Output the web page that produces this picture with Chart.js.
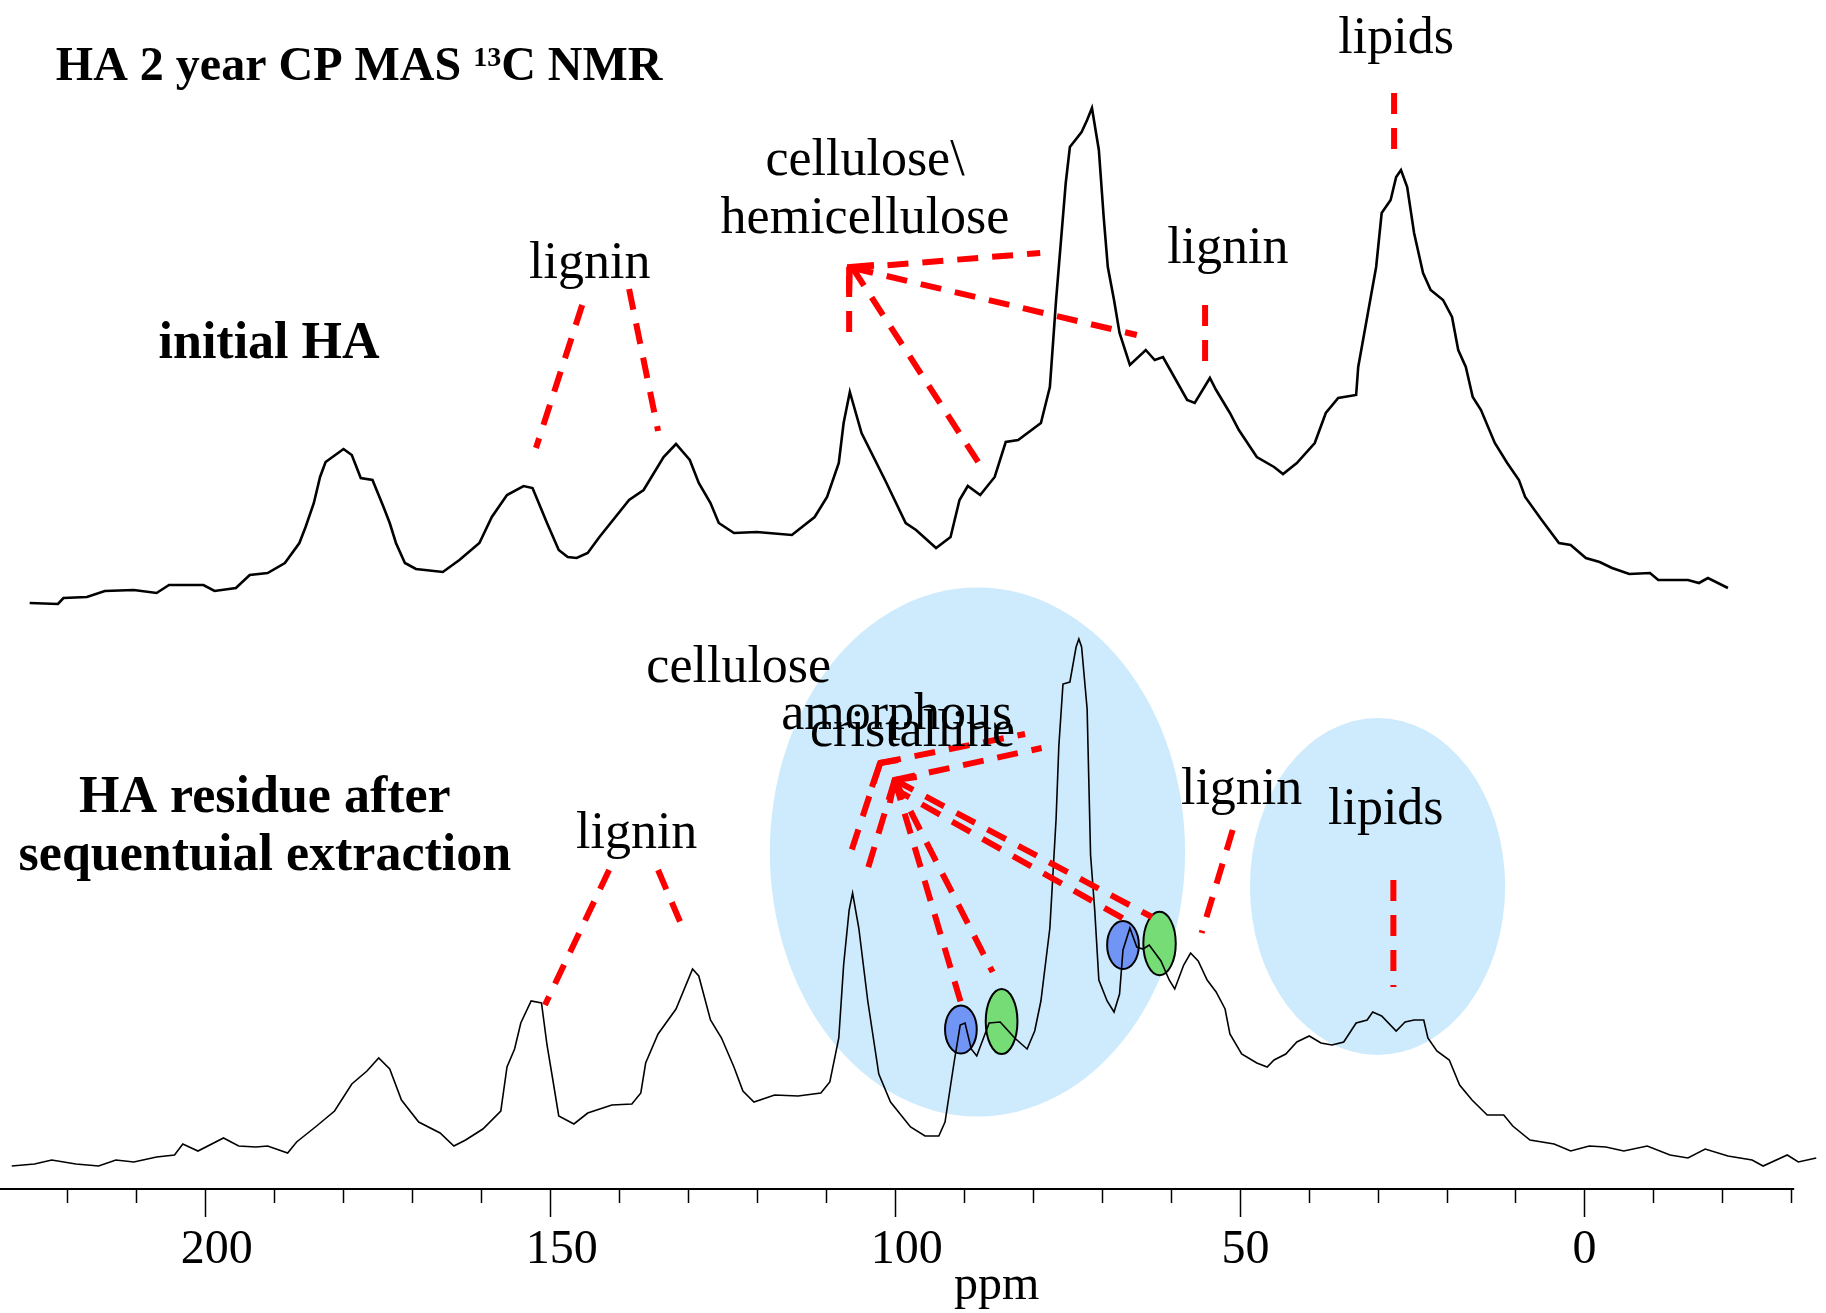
<!DOCTYPE html>
<html>
<head>
<meta charset="utf-8">
<script src="https://cdn.jsdelivr.net/npm/chart.js@4.4.1/dist/chart.umd.min.js"></script>
<style>
  html, body { margin: 0; padding: 0; background: #fff; }
  #wrap { width: 1826px; height: 1313px; }
</style>
</head>
<body>
<div id="wrap"><canvas id="nmrChart" width="1826" height="1313"></canvas></div>
<script>
// Initial HA spectrum: chemical shift (ppm) and intensity (a.u.)
const initialPpm = [225.4, 221.3, 220.5, 217.1, 214.5, 210.3, 207.0, 205.2, 200.2, 198.6,
    195.5, 193.5, 190.9, 188.4, 186.3, 185.4, 184.2, 183.3, 182.5, 179.9,
    178.7, 177.4, 175.7, 174.1, 173.2, 172.3, 171.0, 169.4, 165.5, 163.1,
    160.2, 158.4, 156.2, 153.8, 152.5, 151.6, 150.4, 148.7, 147.4, 146.1,
    144.5, 142.8, 138.5, 136.4, 133.5, 131.7, 129.7, 128.4, 126.7, 125.5,
    123.3, 120.0, 114.9, 111.6, 109.8, 108.1, 107.4, 106.5, 104.8, 101.4,
    98.4, 96.9, 94.0, 91.9, 90.6, 89.4, 87.6, 85.5, 83.9, 82.1,
    78.8, 77.5, 76.6, 75.2, 74.6, 72.9, 72.1, 71.4, 70.4, 69.7,
    69.1, 68.2, 67.4, 65.9, 63.6, 62.3, 61.1, 59.8, 57.6, 56.5,
    54.3, 53.4, 51.4, 50.1, 47.5, 45.0, 43.7, 41.7, 39.1, 37.5,
    35.7, 33.1, 32.8, 31.5, 30.2, 29.4, 28.1, 27.3, 26.6, 25.7,
    24.7, 23.4, 22.3, 20.5, 19.2, 18.3, 17.2, 16.2, 15.0, 13.0,
    11.2, 9.5, 8.6, 6.2, 3.7, 2.0, -0.2, -2.2, -4.0, -6.5,
    -9.5, -10.7, -15.0, -16.6, -17.9, -20.8];
const initialIntensity = [26, 25, 31, 32, 38, 39, 36, 44, 44, 38,
    41, 54, 56, 66, 86, 102, 126, 152, 167, 180,
    174, 151, 149, 122, 106, 86, 66, 60, 57, 69,
    86, 112, 134, 143, 141, 126, 106, 79, 72, 71,
    76, 92, 129, 139, 172, 185, 169, 146, 126, 106,
    96, 97, 94, 112, 132, 166, 206, 237, 196, 149,
    106, 99, 81, 92, 129, 143, 134, 152, 187, 189,
    206, 242, 329, 446, 482, 497, 509, 521, 479, 412,
    362, 329, 296, 264, 279, 269, 272, 256, 229, 226,
    251, 239, 216, 199, 172, 162, 155, 166, 186, 216,
    231, 234, 262, 312, 362, 416, 429, 452, 459, 442,
    396, 356, 339, 329, 312, 279, 262, 232, 219, 186,
    166, 149, 132, 109, 86, 84, 71, 67, 61, 55,
    56, 49, 49, 46, 51, 41];

// HA residue after sequential extraction
const residuePpm = [228.0, 224.7, 222.2, 218.7, 215.4, 212.9, 210.3, 207.0, 204.4, 203.2,
    201.0, 197.3, 195.1, 192.6, 190.9, 188.0, 186.7, 183.8, 181.2, 178.7,
    176.5, 174.8, 173.2, 171.5, 169.0, 165.9, 163.9, 162.2, 159.7, 157.1,
    156.2, 155.1, 154.2, 152.7, 151.2, 150.4, 149.6, 148.7, 146.5, 144.5,
    141.0, 138.1, 136.8, 136.1, 134.3, 131.7, 129.3, 128.4, 126.7, 125.1,
    123.3, 122.0, 120.4, 117.4, 114.0, 110.7, 109.4, 108.1, 107.4, 106.6,
    106.1, 105.2, 103.9, 102.3, 100.6, 97.7, 95.6, 93.6, 92.7, 91.4,
    90.5, 89.8, 88.9, 88.1, 86.3, 84.7, 82.6, 80.8, 79.7, 78.8,
    77.5, 76.6, 76.2, 75.6, 74.6, 73.7, 73.3, 72.9, 72.1, 71.6,
    71.0, 70.4, 69.2, 68.2, 67.4, 66.9, 65.9, 64.9, 64.0, 63.1,
    61.4, 60.2, 59.4, 58.1, 57.1, 56.0, 54.7, 53.4, 52.1, 51.4,
    49.7, 47.5, 46.0, 45.0, 43.3, 41.7, 39.9, 38.2, 36.6, 34.9,
    33.1, 31.5, 30.7, 29.4, 27.3, 26.0, 24.7, 23.3, 22.7, 21.4,
    19.6, 18.1, 16.3, 14.1, 11.7, 10.4, 7.9, 4.4, 2.0, -0.7,
    -3.1, -5.7, -9.1, -12.4, -15.0, -17.5, -20.8, -24.3, -25.9, -29.4,
    -31.0, -33.6];
const residueIntensity = [23, 25, 29, 25, 23, 29, 27, 32, 34, 45,
    38, 51, 43, 42, 43, 36, 47, 63, 78, 105,
    118, 131, 120, 89, 67, 56, 43, 49, 60, 78,
    122, 140, 166, 188, 186, 144, 111, 73, 65, 76,
    84, 85, 96, 126, 155, 180, 220, 213, 169, 151,
    122, 98, 87, 94, 93, 96, 107, 151, 224, 279,
    296, 261, 188, 115, 87, 62, 53, 53, 67, 126,
    164, 166, 140, 133, 166, 167, 151, 140, 158, 188,
    261, 370, 443, 505, 507, 542, 550, 542, 480, 334,
    279, 209, 188, 177, 195, 239, 261, 242, 240, 244,
    228, 209, 200, 224, 236, 228, 209, 197, 180, 155,
    135, 126, 122, 129, 135, 147, 153, 146, 144, 147,
    166, 169, 177, 173, 158, 167, 169, 169, 151, 138,
    129, 104, 89, 74, 74, 63, 49, 45, 38, 43,
    42, 38, 43, 34, 31, 40, 33, 29, 23, 34,
    27, 31];

// vertical offset of the initial HA trace above the residue trace
const initialOffset = 560;

const majorTicks = [200, 150, 100, 50, 0];

// red dashed guides: [ppm, intensity, ppm, intensity]
const guideLines = [
    [145.3, 884, 152.0, 741], [138.5, 900, 134.3, 758],
    [106.1, 921, 78.9, 936], [106.1, 921, 64.9, 854],
    [106.6, 913, 106.6, 854], [106.1, 921, 87.9, 727],
    [55.0, 884, 55.0, 821], [27.6, 1096, 27.6, 1037],
    [102.1, 426, 81.1, 455], [102.1, 426, 106.8, 327],
    [100.0, 409, 78.7, 441], [100.0, 409, 104.3, 311],
    [100.0, 409, 90.3, 184], [100.0, 409, 85.8, 217],
    [100.0, 409, 62.7, 272], [100.5, 402, 66.5, 269],
    [141.4, 319, 150.7, 184], [134.3, 319, 130.6, 259],
    [51.0, 359, 55.5, 256], [27.7, 309, 27.7, 202]
];

// arrow heads: [side ppm, side int, tip ppm, tip int, side ppm, side int]
const arrowHeads = [
    [103.0, 924, 106.5, 922, 106.6, 896],
    [99.5, 429, 102.1, 426, 103.3, 402],
    [96.8, 412, 100.0, 409, 100.7, 386]
];

// highlighted regions: centre ppm, centre intensity, half-width (ppm), half-height
const regionCentrePpm = [88.0, 30.0, 90.4, 84.5, 66.9, 61.6];
const regionCentreInt = [337, 302.5, 159.5, 167.5, 244, 245.5];
const regionHalfPpm = [30.1, 18.5, 2.3, 2.3, 2.3, 2.35];
const regionHalfInt = [264.5, 168.5, 24, 32.5, 24, 31.7];
const regionFill = ['#cdebfc', '#cdebfc', '#7095f5', '#76dc76', '#7095f5', '#76dc76'];

const peakLabels = [
    ['lipids', 27.3, 1136], ['cellulose\\', 104.3, 1014], ['hemicellulose', 104.3, 956],
    ['lignin', 144.2, 911], ['lignin', 51.7, 926],
    ['cellulose', 122.6, 507], ['amorphous', 99.7, 460], ['cristalline', 97.4, 443],
    ['lignin', 137.4, 341], ['lignin', 49.7, 385], ['lipids', 28.8, 365]
];

const sampleLabels = [
    ['initial HA', 190.7, 831], ['HA residue after', 191.3, 377],
    ['sequentuial extraction', 191.3, 319]
];

const SERIF = "'Liberation Serif', 'Times New Roman', serif";
const RED = '#ff0000';

const datasets = [];

// dashed guides on top of spectra
guideLines.forEach(g => {
    datasets.push({
        data: [{x: g[0], y: g[1]}, {x: g[2], y: g[3]}],
        borderColor: RED,
        borderWidth: 6,
        borderDash: [21, 14],
        pointRadius: 0,
        showLine: true,
        order: 1
    });
});

arrowHeads.forEach(a => {
    datasets.push({
        data: [{x: a[0], y: a[1]}, {x: a[2], y: a[3]}, {x: a[4], y: a[5]}],
        borderColor: RED,
        borderWidth: 6,
        pointRadius: 0,
        showLine: true,
        order: 1
    });
});

datasets.push({
    data: initialPpm.map((p, i) => ({x: p, y: initialIntensity[i] + initialOffset})),
    borderColor: '#000',
    borderWidth: 2.6,
    pointRadius: 0,
    showLine: true,
    order: 2
});

datasets.push({
    data: residuePpm.map((p, i) => ({x: p, y: residueIntensity[i]})),
    borderColor: '#000',
    borderWidth: 1.6,
    pointRadius: 0,
    showLine: true,
    order: 2
});

const overlayPlugin = {
    id: 'overlay',
    beforeDatasetsDraw(chart) {
        const {ctx} = chart;
        const x = chart.scales.x, y = chart.scales.y;
        regionCentrePpm.forEach((p, i) => {
            const cx = x.getPixelForValue(p);
            const cy = y.getPixelForValue(regionCentreInt[i]);
            const rx = Math.abs(x.getPixelForValue(p + regionHalfPpm[i]) - cx);
            const ry = Math.abs(y.getPixelForValue(regionCentreInt[i] + regionHalfInt[i]) - cy);
            ctx.save();
            ctx.beginPath();
            ctx.ellipse(cx, cy, rx, ry, 0, 0, Math.PI * 2);
            ctx.fillStyle = regionFill[i];
            ctx.fill();
            // only the small peak markers have an outline
            if (i > 1) {
                ctx.lineWidth = 2;
                ctx.strokeStyle = '#000';
                ctx.stroke();
            }
            ctx.restore();
        });
    },
    afterDraw(chart) {
        const {ctx, chartArea} = chart;
        const x = chart.scales.x, y = chart.scales.y;
        const axisY = chartArea.bottom;

        ctx.save();
        // axis line and tick marks
        ctx.strokeStyle = '#000';
        ctx.lineWidth = 2;
        ctx.beginPath();
        ctx.moveTo(chartArea.left, axisY);
        ctx.lineTo(x.getPixelForValue(-30.4), axisY);
        ctx.stroke();
        ctx.lineWidth = 1.5;
        for (let v = -30; v <= 220; v += 10) {
            const px = Math.round(x.getPixelForValue(v)) + 0.5;
            ctx.beginPath();
            ctx.moveTo(px, axisY);
            ctx.lineTo(px, axisY + (majorTicks.includes(v) ? 28 : 14));
            ctx.stroke();
        }

        ctx.fillStyle = '#000';

        // tick labels sit slightly right of their ticks, more so for longer numbers
        ctx.textAlign = 'center';
        ctx.textBaseline = 'middle';
        ctx.font = '48px ' + SERIF;
        majorTicks.forEach(v => {
            const s = String(v);
            ctx.fillText(s, x.getPixelForValue(v) + 6 * (s.length - 1), axisY + 61);
        });

        ctx.textBaseline = 'alphabetic';

        // axis title
        ctx.font = '48px ' + SERIF;
        ctx.fillText('ppm', x.getPixelForValue(85.2), y.getPixelForValue(-110));

        // peak assignments
        ctx.font = '52px ' + SERIF;
        peakLabels.forEach(l => {
            ctx.fillText(l[0], x.getPixelForValue(l[1]), y.getPixelForValue(l[2]));
        });

        // sample names
        ctx.font = 'bold 52px ' + SERIF;
        sampleLabels.forEach(l => {
            ctx.fillText(l[0], x.getPixelForValue(l[1]), y.getPixelForValue(l[2]));
        });

        // title with superscript 13
        ctx.textAlign = 'left';
        let tx = x.getPixelForValue(221.6);
        const ty = y.getPixelForValue(1109);
        ctx.font = 'bold 48px ' + SERIF;
        ctx.fillText('HA 2 year CP MAS ', tx, ty);
        tx += ctx.measureText('HA 2 year CP MAS ').width;
        ctx.font = 'bold 28px ' + SERIF;
        ctx.fillText('13', tx, ty - 14);
        tx += ctx.measureText('13').width;
        ctx.font = 'bold 48px ' + SERIF;
        ctx.fillText('C NMR', tx, ty);
        ctx.restore();
    }
};

const chart = new Chart(document.getElementById('nmrChart'), {
    type: 'scatter',
    data: {datasets},
    options: {
        responsive: false,
        animation: false,
        devicePixelRatio: 1,
        layout: {padding: {left: 0, right: 7, top: 0, bottom: 0}},
        plugins: {
            legend: {display: false},
            tooltip: {enabled: false}
        },
        elements: {line: {tension: 0}},
        scales: {
            x: {
                type: 'linear',
                reverse: true,
                min: -34,
                max: 229.7,
                grid: {display: false},
                border: {display: false},
                afterFit: scale => { scale.height = 124; },
                ticks: {
                    stepSize: 10,
                    includeBounds: false,
                    autoSkip: false,
                    maxRotation: 0,
                    callback: () => ''
                }
            },
            y: {
                display: false,
                min: 0,
                max: 1189
            }
        }
    },
    plugins: [overlayPlugin]
});
</script>
</body>
</html>
